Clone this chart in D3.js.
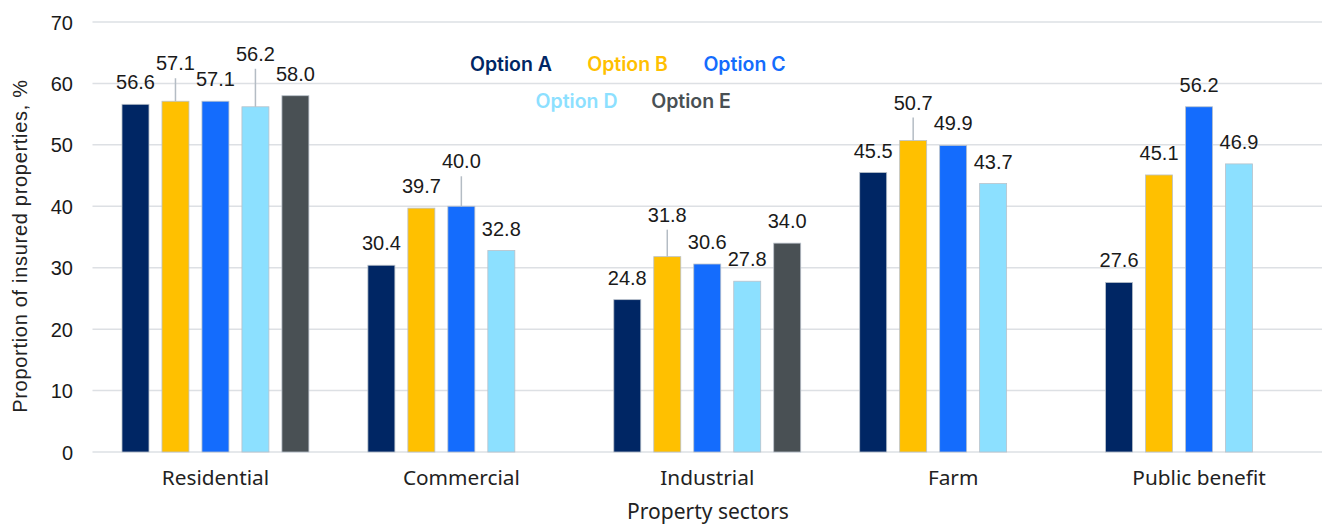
<!DOCTYPE html>
<html>
<head>
<meta charset="utf-8">
<script src="https://cdn.jsdelivr.net/npm/d3@7"></script>
<style>
  html, body { margin: 0; padding: 0; background: #fff; }
  svg { display: block; }
</style>
</head>
<body>
<svg id="chart" width="1322" height="524"></svg>
<script>
// Property sectors on the x axis
const categories = ["Residential", "Commercial", "Industrial", "Farm", "Public benefit"];
// Series names (legend order)
const seriesNames = ["Option A", "Option B", "Option C", "Option D", "Option E"];
const seriesColors = ["#002664", "#FFC000", "#146CFD", "#8CE0FF", "#495054"];
// Proportion of insured properties (%) per option, in category order (null = not reported)
const optionA = [56.6, 30.4, 24.8, 45.5, 27.6];
const optionB = [57.1, 39.7, 31.8, 50.7, 45.1];
const optionC = [57.1, 40.0, 30.6, 49.9, 56.2];
const optionD = [56.2, 32.8, 27.8, 43.7, 46.9];
const optionE = [58.0, null, 34.0, null, null];
const yTicks = [0, 10, 20, 30, 40, 50, 60, 70];
// Labels lifted above their bar and joined to it by a leader line: [series, category, lift px]
const liftedLabels = [
  ["Option B", "Residential", 16],
  ["Option D", "Residential", 31],
  ["Option C", "Commercial", 23],
  ["Option B", "Industrial", 20],
  ["Option B", "Farm", 16]
];

const seriesValues = [optionA, optionB, optionC, optionD, optionE];

const svg = d3.select("#chart");
const margin = { left: 92.5, right: 0, top: 22, bottom: 72 };
const W = 1322, H = 524;
const plotBottom = 452;

const x = d3.scaleBand().domain(categories).range([margin.left, W - margin.right]).padding(0);
const xInner = d3.scaleBand().domain(seriesNames)
  .range([23, x.bandwidth() - 23]).paddingInner(13 / 40).paddingOuter(13 / 80);
const y = d3.scaleLinear().domain([0, 70]).range([plotBottom, margin.top]);
const color = d3.scaleOrdinal().domain(seriesNames).range(seriesColors);

// Gridlines
svg.append("g").selectAll("line").data(yTicks).join("line")
  .attr("x1", margin.left).attr("x2", W - margin.right)
  .attr("y1", d => y(d)).attr("y2", d => y(d))
  .attr("stroke", "#dde0e4").attr("stroke-width", 1.5);

// Y axis tick labels
const yAxis = d3.axisLeft(y).tickValues(yTicks).tickSize(0).tickPadding(0).tickFormat(d3.format("d"));
svg.append("g").attr("transform", `translate(73,0)`).call(yAxis)
  .call(g => g.select(".domain").remove())
  .call(g => g.selectAll("text")
    .attr("font-family", "'Liberation Sans', Arial, sans-serif")
    .attr("font-size", 20).attr("fill", "#1a1a1a").attr("dy", "0.35em"));

// X axis category labels
const xAxis = d3.axisBottom(x).tickSize(0).tickPadding(0);
svg.append("g").attr("transform", `translate(0,${plotBottom})`).call(xAxis)
  .call(g => g.select(".domain").remove())
  .call(g => g.selectAll("text")
    .attr("font-family", "'Noto Sans', sans-serif")
    .attr("font-size", 20.8).attr("fill", "#222").attr("dy", 0).attr("y", 33));

// Flattened bar records
const records = [];
seriesNames.forEach((s, si) => {
  categories.forEach((c, ci) => {
    const v = seriesValues[si][ci];
    if (v != null) records.push({ series: s, category: c, value: v });
  });
});

// Bars
svg.append("g").selectAll("rect").data(records).join("rect")
  .attr("x", d => x(d.category) + xInner(d.series))
  .attr("y", d => y(d.value))
  .attr("width", xInner.bandwidth())
  .attr("height", d => plotBottom - y(d.value))
  .attr("fill", d => color(d.series))
  .attr("stroke", "#b9c1ca").attr("stroke-width", 0.8);

const liftOf = d => {
  const m = liftedLabels.find(l => l[0] === d.series && l[1] === d.category);
  return m ? m[2] : 0;
};

// Leader lines for lifted labels
svg.append("g").selectAll("line").data(records.filter(d => liftOf(d) > 0)).join("line")
  .attr("x1", d => x(d.category) + xInner(d.series) + xInner.bandwidth() / 2)
  .attr("x2", d => x(d.category) + xInner(d.series) + xInner.bandwidth() / 2)
  .attr("y1", d => y(d.value) - 15 - liftOf(d) + 8)
  .attr("y2", d => y(d.value))
  .attr("stroke", "#b4bcc4").attr("stroke-width", 1.5);

// Value labels
svg.append("g").selectAll("text").data(records).join("text")
  .attr("x", d => x(d.category) + xInner(d.series) + xInner.bandwidth() / 2)
  .attr("y", d => y(d.value) - 15 - liftOf(d))
  .attr("text-anchor", "middle")
  .attr("font-family", "'Liberation Sans', Arial, sans-serif")
  .attr("font-size", 20).attr("fill", "#1a1a1a")
  .text(d => d3.format(".1f")(d.value));

// Legend: coloured series names in two rows
const legendRows = [
  [["Option A", 511], ["Option B", 627.5], ["Option C", 744.5]],
  [["Option D", 576.5], ["Option E", 691]]
];
const legend = svg.append("g");
legendRows.forEach((row, ri) => {
  legend.selectAll(null).data(row).join("text")
    .attr("x", d => d[1]).attr("y", 71 + ri * 36.5)
    .attr("text-anchor", "middle")
    .attr("font-family", "Inter, 'Noto Sans', sans-serif")
    .attr("font-weight", 600).attr("font-size", 19.5)
    .attr("fill", d => color(d[0]))
    .text(d => d[0]);
});

// Axis titles
svg.append("text")
  .attr("x", 708).attr("y", 519)
  .attr("text-anchor", "middle")
  .attr("font-family", "'Noto Sans', sans-serif").attr("font-size", 21).attr("fill", "#222")
  .text("Property sectors");

svg.append("text")
  .attr("transform", `translate(27,246) rotate(-90)`)
  .attr("text-anchor", "middle")
  .attr("font-family", "'Liberation Sans', Arial, sans-serif").attr("font-size", 20)
  .attr("letter-spacing", 0.7).attr("fill", "#222")
  .text("Proportion of insured properties, %");
</script>
</body>
</html>
